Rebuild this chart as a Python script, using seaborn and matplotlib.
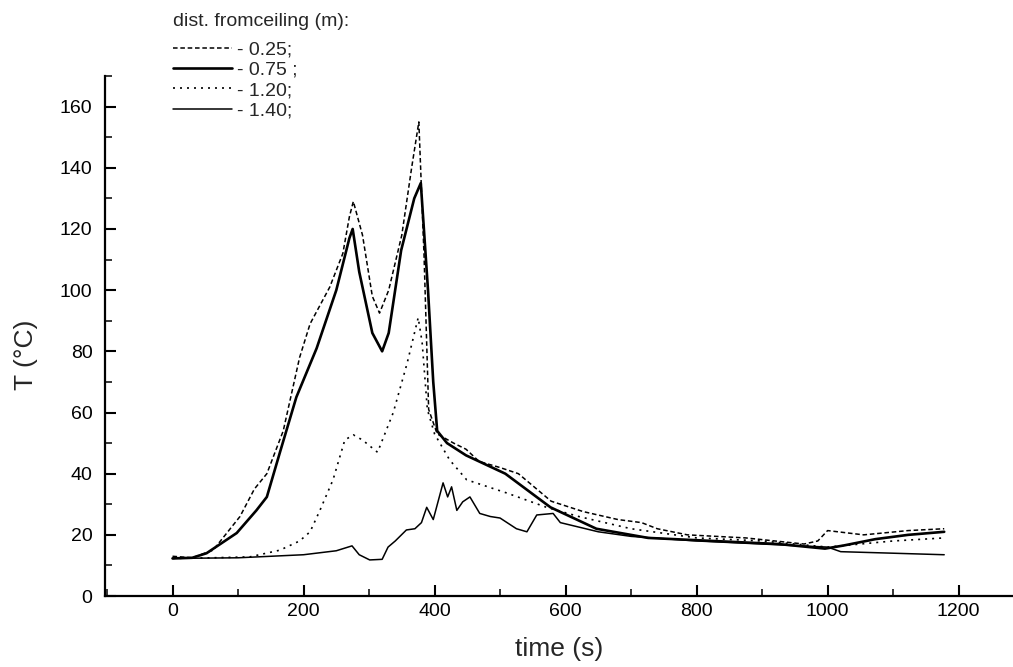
# Import Libraries
import pandas as pd
import seaborn as sns
import matplotlib.pyplot as plt
from matplotlib.ticker import MultipleLocator

# distance from ceiling 0.25 m (dashed)
t_025 = [0, 30, 62, 103, 125, 144, 169, 194, 210, 240, 260, 270, 276, 290, 305, 316,
         330, 350, 365, 376, 384, 391, 404, 429, 448, 468, 500, 528, 578, 627, 680,
         716, 740, 786, 875, 964, 985, 1000, 1055, 1123, 1178]
T_025 = [13, 12.5, 15, 26, 35, 40, 54, 78, 89, 101, 112, 124, 129, 118, 98, 92.5,
         100, 118, 140, 155, 111, 61, 53, 50, 48, 44, 42, 40, 31, 27.6, 25,
         24, 22, 20, 19, 17, 18, 21.4, 20, 21.4, 22]

# 0.75 m (thick solid)
t_075 = [0, 30, 52, 98, 128, 144, 164, 189, 220, 250, 270, 275, 285, 305, 320, 330,
         349, 369, 379, 390, 398, 404, 419, 448, 508, 577, 647, 726, 825, 925, 996,
         1024, 1073, 1123, 1178]
T_075 = [12.3, 12.5, 14, 20.6, 28, 32.4, 47, 65, 81, 100, 117, 120, 106, 86, 80, 86,
         113, 130, 135, 100, 70, 54, 50, 46, 40, 29, 22, 19, 18, 17, 15.5,
         16.5, 18.6, 20, 21]

# 1.20 m (dotted)
t_120 = [0, 60, 118, 164, 194, 210, 225, 245, 263, 276, 290, 313, 337, 358, 375, 381,
         389, 400, 423, 449, 510, 571, 620, 700, 800, 900, 1000, 1050, 1100, 1178]
T_120 = [12.3, 12.5, 12.8, 15, 18, 21, 28, 38, 51, 52.7, 51, 47, 60, 76, 91, 83,
         61, 53, 44.5, 38, 33.7, 29, 26, 22, 19, 18, 16, 17, 18, 19]

# 1.40 m (thin solid)
t_140 = [0, 100, 200, 250, 274, 285, 301, 320, 329, 340, 357, 370, 380, 388, 398, 413,
         420, 426, 434, 443, 454, 469, 485, 500, 525, 541, 556, 581, 592, 650, 700,
         800, 900, 1000, 1020, 1100, 1178]
T_140 = [12.3, 12.5, 13.5, 14.8, 16.4, 13.5, 11.8, 12, 16, 18, 21.6, 22, 24, 29, 25, 37,
         32.4, 35.7, 28, 30.8, 32.4, 27, 26, 25.5, 22, 21, 26.5, 27, 24, 21, 19.5,
         18, 17, 16, 14.5, 14, 13.5]

labels = ['- 0.25;', '- 0.75 ;', '- 1.20;', '- 1.40;']
legend_title = 'dist. fromceiling (m):'

sns.set_style('ticks')
plt.rcParams['font.family'] = ['Liberation Sans Narrow', 'Liberation Sans', 'DejaVu Sans']

fig = plt.figure(figsize = (10.13, 6.67), dpi = 100)
ax = fig.add_axes([0.1037, 0.1064, 0.8963, 0.7796])

styles = [
    dict(lw = 1.1, ls = (0, (3.0, 1.8))),
    dict(lw = 1.9, ls = '-'),
    dict(lw = 1.2, ls = (0, (1.2, 3.0))),
    dict(lw = 1.1, ls = '-'),
]
for t, T, lab, st in zip([t_025, t_075, t_120, t_140],
                         [T_025, T_075, T_120, T_140], labels, styles):
    df = pd.DataFrame({'time': t, 'T': T})
    sns.lineplot(data = df, x = 'time', y = 'T', ax = ax, color = 'black',
                 label = lab, estimator = None, sort = False, **st)

ax.set_xlim(-103, 1283)
ax.set_ylim(0, 170)
ax.xaxis.set_major_locator(MultipleLocator(200))
ax.xaxis.set_minor_locator(MultipleLocator(100))
ax.yaxis.set_major_locator(MultipleLocator(20))
ax.yaxis.set_minor_locator(MultipleLocator(10))
ax.tick_params(which = 'major', direction = 'in', length = 8, width = 1.5,
               labelsize = 14, colors = 'black')
ax.tick_params(which = 'minor', direction = 'in', length = 5, width = 1.3)
ax.tick_params(axis = 'y', pad = 9)
ax.tick_params(axis = 'x', pad = 5)
sns.despine(ax = ax)
for s in ['left', 'bottom']:
    ax.spines[s].set_linewidth(1.6)
    ax.spines[s].set_color('black')

ax.set_xlabel('time (s)', fontsize = 19, family = ['Liberation Sans', 'DejaVu Sans'])
ax.set_ylabel('T (°C)', fontsize = 19, family = ['Liberation Sans', 'DejaVu Sans'])
ax.xaxis.set_label_coords(0.5, -0.079)
ax.yaxis.set_label_coords(-0.074, 0.463)

# legend title as its own text so the gap above the first row matches
fig.text(0.171, 1 - 22 / 667, legend_title, fontsize = 14, va = 'center', ha = 'left')
ax.legend(loc = 'upper left', bbox_to_anchor = (0.171, 1 - 41 / 667),
          bbox_transform = fig.transFigure, frameon = False, fontsize = 14,
          handlelength = 3.0, handletextpad = 0.3, labelspacing = 0.14,
          borderpad = 0, borderaxespad = 0)

fig.savefig('out.png', dpi = 100)
